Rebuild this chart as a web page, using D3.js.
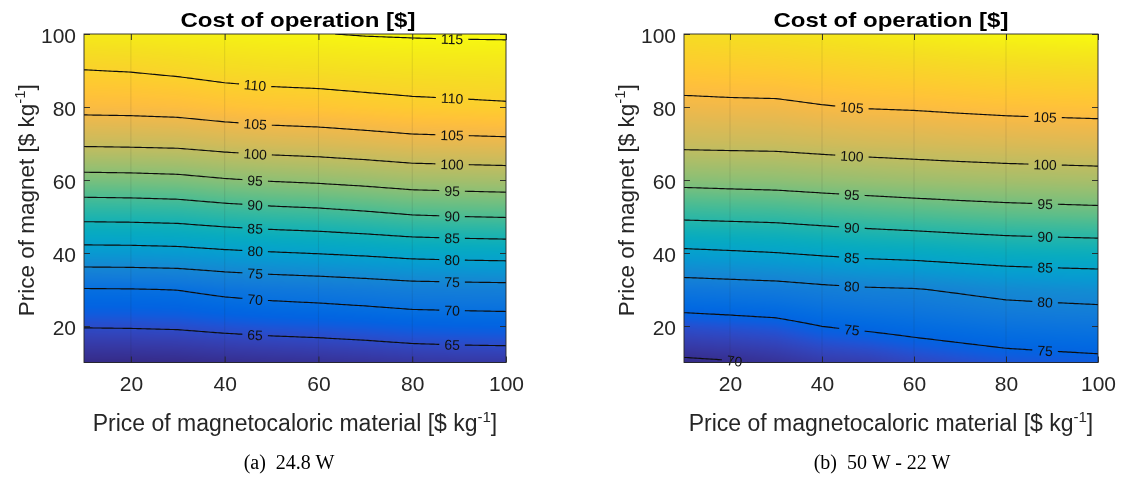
<!DOCTYPE html>
<html>
<head>
<meta charset="utf-8">
<script src="https://cdn.jsdelivr.net/npm/d3@7"></script>
<style>
  html, body { margin: 0; padding: 0; background: #ffffff; }
  #wrap { position: relative; width: 1140px; height: 478px; }
  #fill, #chart { position: absolute; left: 0; top: 0; }
</style>
</head>
<body>
<div id="wrap">
  <canvas id="fill" width="1140" height="478"></canvas>
  <svg id="chart" width="1140" height="478"></svg>
</div>
<script>
// Grid axes: price of magnetocaloric material (columns) and price of magnet (rows), $/kg
const mcmPrice = [10, 20, 30, 40, 50, 60, 70, 80, 90, 100];
const magnetPrice = [10, 20, 30, 40, 50, 60, 70, 80, 90, 100];

// Cost of operation [$], one row per magnet price, one column per magnetocaloric price
const costA = [
  [60.70, 60.73, 60.87, 61.26, 61.52, 61.73, 62.01, 62.40, 62.60, 62.68],
  [65.23, 65.30, 65.46, 65.93, 66.29, 66.54, 66.91, 67.40, 67.60, 67.73],
  [69.77, 69.86, 70.09, 71.03, 71.64, 72.03, 72.53, 73.12, 73.29, 73.44],
  [78.25, 78.33, 78.58, 79.24, 79.74, 80.17, 80.68, 81.32, 81.61, 81.79],
  [86.12, 86.24, 86.50, 87.29, 87.89, 88.28, 88.92, 89.68, 90.00, 90.22],
  [93.48, 93.62, 93.91, 94.71, 95.28, 95.69, 96.25, 96.94, 97.19, 97.40],
  [100.59, 100.72, 100.92, 101.62, 102.14, 102.47, 102.99, 103.59, 103.78, 103.97],
  [106.22, 106.33, 106.61, 107.32, 107.83, 108.08, 108.56, 109.02, 109.26, 109.52],
  [109.93, 110.17, 110.68, 111.36, 111.71, 111.88, 112.17, 112.38, 112.50, 112.60],
  [113.60, 113.80, 114.10, 114.40, 114.70, 114.90, 115.18, 115.32, 115.41, 115.46]
];
const costB = [
  [69.46, 69.77, 70.36, 71.24, 71.60, 72.45, 73.06, 73.63, 73.92, 74.18],
  [73.31, 73.62, 73.99, 75.04, 75.60, 76.14, 76.65, 77.15, 77.40, 77.60],
  [77.92, 78.22, 78.50, 79.14, 79.60, 79.82, 80.44, 81.13, 81.44, 81.69],
  [84.23, 84.57, 84.93, 85.49, 86.00, 86.31, 86.77, 87.19, 87.41, 87.59],
  [90.62, 90.83, 91.04, 91.53, 91.98, 92.36, 92.75, 93.09, 93.31, 93.52],
  [96.12, 96.34, 96.52, 96.91, 97.25, 97.60, 97.88, 98.11, 98.27, 98.43],
  [100.79, 100.88, 100.95, 101.30, 101.62, 101.82, 102.06, 102.27, 102.42, 102.56],
  [104.11, 104.26, 104.32, 104.82, 105.17, 105.33, 105.61, 105.86, 106.02, 106.15],
  [106.90, 107.10, 107.27, 107.68, 108.03, 108.32, 108.65, 108.93, 109.11, 109.27],
  [109.50, 109.80, 110.10, 110.50, 110.90, 111.30, 111.70, 112.00, 112.20, 112.40]
];

// Contour levels
const levelsA = [65, 70, 75, 80, 85, 90, 95, 100, 105, 110, 115];
const levelsB = [70, 75, 80, 85, 90, 95, 100, 105];

// Tick labels
const xTicks = [20, 40, 60, 80, 100];
const yTicks = [20, 40, 60, 80, 100];

// Texts
const plotTitle = "Cost of operation [$]";
const xTitle = "Price of magnetocaloric material [$ kg";
const yTitle = "Price of magnet [$ kg";
const unitExp = "-1";
const captions = ["(a)\u00a0\u00a024.8 W", "(b)\u00a0\u00a050 W - 22 W"];

// MATLAB parula colormap (64 entries)
const parula = [
[0.2081,0.1663,0.5292],[0.2116,0.1898,0.5777],[0.2123,0.2138,0.6270],[0.2081,0.2386,0.6771],
[0.1959,0.2645,0.7279],[0.1707,0.2919,0.7792],[0.1253,0.3242,0.8303],[0.0591,0.3598,0.8683],
[0.0117,0.3875,0.8820],[0.0060,0.4086,0.8828],[0.0165,0.4266,0.8786],[0.0329,0.4430,0.8720],
[0.0498,0.4586,0.8641],[0.0629,0.4737,0.8554],[0.0723,0.4887,0.8467],[0.0779,0.5040,0.8384],
[0.0793,0.5200,0.8312],[0.0749,0.5375,0.8263],[0.0641,0.5570,0.8240],[0.0488,0.5772,0.8228],
[0.0343,0.5966,0.8199],[0.0265,0.6137,0.8135],[0.0239,0.6287,0.8038],[0.0231,0.6418,0.7913],
[0.0228,0.6535,0.7768],[0.0267,0.6642,0.7607],[0.0384,0.6743,0.7436],[0.0590,0.6838,0.7254],
[0.0843,0.6928,0.7062],[0.1133,0.7015,0.6859],[0.1453,0.7098,0.6646],[0.1801,0.7177,0.6424],
[0.2178,0.7250,0.6193],[0.2586,0.7317,0.5954],[0.3022,0.7376,0.5712],[0.3482,0.7424,0.5473],
[0.3953,0.7459,0.5244],[0.4420,0.7481,0.5033],[0.4871,0.7491,0.4840],[0.5300,0.7491,0.4661],
[0.5709,0.7485,0.4494],[0.6099,0.7473,0.4337],[0.6473,0.7456,0.4188],[0.6834,0.7435,0.4044],
[0.7184,0.7411,0.3905],[0.7525,0.7384,0.3768],[0.7858,0.7356,0.3633],[0.8185,0.7327,0.3498],
[0.8507,0.7299,0.3360],[0.8824,0.7274,0.3217],[0.9139,0.7258,0.3063],[0.9450,0.7261,0.2886],
[0.9739,0.7314,0.2666],[0.9938,0.7455,0.2403],[0.9990,0.7653,0.2164],[0.9955,0.7861,0.1967],
[0.9880,0.8066,0.1794],[0.9789,0.8271,0.1633],[0.9697,0.8481,0.1475],[0.9626,0.8705,0.1309],
[0.9589,0.8949,0.1132],[0.9598,0.9218,0.0948],[0.9661,0.9514,0.0755],[0.9763,0.9831,0.0538]
];

// Panel layout
const panels = [
  { key: "a", cost: costA, levels: levelsA, left: 84, right: 506, top: 34, bottom: 362.5,
    labelCols: [46.5, 88.5], extraLabels: [], caption: captions[0], captionX: 289, yTitleX: 33.5, titleX: 298 },
  { key: "b", cost: costB, levels: levelsB, left: 684, right: 1098, top: 34, bottom: 362.5,
    labelCols: [46.5, 88.5], extraLabels: [{ level: 70, at: 21 }], caption: captions[1], captionX: 882, yTitleX: 634, titleX: 891 }
];

const FONT = "'Liberation Sans', Arial, Helvetica, sans-serif";
const SERIF = "'Liberation Serif', 'Times New Roman', serif";
const INK = "#262626";

const svg = d3.select("#chart").style("font-family", FONT);
const defs = svg.append("defs");
const ctx = document.getElementById("fill").getContext("2d");

// Bilinear surface through the cost grid
function surface(grid) {
  const nx = mcmPrice.length, ny = magnetPrice.length;
  return function (xv, yv) {
    let i = d3.bisectRight(mcmPrice, xv) - 1;
    let j = d3.bisectRight(magnetPrice, yv) - 1;
    i = Math.max(0, Math.min(nx - 2, i));
    j = Math.max(0, Math.min(ny - 2, j));
    const tx = Math.max(0, Math.min(1, (xv - mcmPrice[i]) / (mcmPrice[i + 1] - mcmPrice[i])));
    const ty = Math.max(0, Math.min(1, (yv - magnetPrice[j]) / (magnetPrice[j + 1] - magnetPrice[j])));
    const a = grid[j][i], b = grid[j][i + 1], c = grid[j + 1][i], d = grid[j + 1][i + 1];
    return (a * (1 - tx) + b * tx) * (1 - ty) + (c * (1 - tx) + d * tx) * ty;
  };
}

function crossing(f, xv, level) {
  const step = 0.02;
  let prev = f(xv, magnetPrice[0]) - level;
  for (let yv = magnetPrice[0] + step; yv <= magnetPrice[magnetPrice.length - 1] + 1e-9; yv += step) {
    const cur = f(xv, yv) - level;
    if (prev === 0) return yv - step;
    if (prev * cur < 0) return yv - step + step * (prev / (prev - cur));
    prev = cur;
  }
  return null;
}

panels.forEach(p => {
  const x = d3.scaleLinear().domain([mcmPrice[0], mcmPrice[mcmPrice.length - 1]]).range([p.left, p.right]);
  const y = d3.scaleLinear().domain([magnetPrice[0], magnetPrice[magnetPrice.length - 1]]).range([p.bottom, p.top]);
  const f = surface(p.cost);
  const flat = p.cost.flat();
  const zExt = d3.extent(flat);

  // colour lookup table over the data range
  const color = d3.scaleLinear()
    .domain(parula.map((_, k) => zExt[0] + (zExt[1] - zExt[0]) * k / (parula.length - 1)))
    .range(parula.map(c => d3.rgb(c[0] * 255, c[1] * 255, c[2] * 255)))
    .interpolate(d3.interpolateRgb).clamp(true);
  const N = 1024;
  const lut = d3.range(N).map(k => d3.rgb(color(zExt[0] + (zExt[1] - zExt[0]) * k / (N - 1))));

  // interpolated surface fill
  const x0 = Math.round(p.left), y0 = Math.round(p.top);
  const w = Math.round(p.right) - x0, h = Math.round(p.bottom) - y0;
  const img = ctx.createImageData(w, h);
  for (let r = 0; r < h; r++) {
    const yv = y.invert(y0 + r + 0.5);
    for (let c = 0; c < w; c++) {
      const xv = x.invert(x0 + c + 0.5);
      const z = f(xv, yv);
      const k = Math.max(0, Math.min(N - 1, Math.round((z - zExt[0]) / (zExt[1] - zExt[0]) * (N - 1))));
      const col = lut[k];
      const o = (r * w + c) * 4;
      img.data[o] = col.r; img.data[o + 1] = col.g; img.data[o + 2] = col.b; img.data[o + 3] = 255;
    }
  }
  ctx.putImageData(img, x0, y0);

  const g = svg.append("g");

  // clip to the axes box
  defs.append("clipPath").attr("id", "clip-" + p.key)
    .append("rect").attr("x", p.left).attr("y", p.top)
    .attr("width", p.right - p.left).attr("height", p.bottom - p.top);

  // vertical grid
  g.append("g").selectAll("line").data(xTicks.filter(t => t < mcmPrice[mcmPrice.length - 1])).join("line")
    .attr("x1", d => x(d)).attr("x2", d => x(d))
    .attr("y1", p.top).attr("y2", p.bottom)
    .attr("stroke", INK).attr("stroke-opacity", 0.11).attr("stroke-width", 1);

  // contour lines from a finely sampled surface
  const res = 0.5;
  const xs = d3.range(mcmPrice[0], mcmPrice[mcmPrice.length - 1] + res / 2, res);
  const ys = d3.range(magnetPrice[0], magnetPrice[magnetPrice.length - 1] + res / 2, res);
  const values = new Float64Array(xs.length * ys.length);
  ys.forEach((yv, j) => xs.forEach((xv, i) => { values[j * xs.length + i] = f(xv, yv); }));
  const polys = d3.contours().size([xs.length, ys.length]).thresholds(p.levels)(values);
  const proj = d3.geoTransform({
    point: function (cx, cy) {
      this.stream.point(x(xs[0] + (cx - 0.5) * res), y(ys[0] + (cy - 0.5) * res));
    }
  });
  const path = d3.geoPath(proj);

  // label positions and line gaps
  const mask = defs.append("mask").attr("id", "gap-" + p.key)
    .attr("maskUnits", "userSpaceOnUse").attr("x", 0).attr("y", 0).attr("width", 1140).attr("height", 478);
  mask.append("rect").attr("x", 0).attr("y", 0).attr("width", 1140).attr("height", 478).attr("fill", "white");

  const specs = [];
  p.levels.forEach(lv => p.labelCols.forEach(xc => specs.push({ level: lv, at: xc })));
  p.extraLabels.forEach(s => specs.push(s));

  const labelG = g.append("g").attr("font-size", 14).attr("fill", "#111");
  specs.forEach(s => {
    const yc = crossing(f, s.at, s.level);
    if (yc === null) return;
    const ya = crossing(f, s.at - 2, s.level), yb = crossing(f, s.at + 2, s.level);
    let ang = 0;
    if (ya !== null && yb !== null) {
      ang = Math.atan2(y(yb) - y(ya), x(s.at + 2) - x(s.at - 2)) * 180 / Math.PI;
    }
    const tf = `translate(${x(s.at)},${y(yc)}) rotate(${ang})`;
    const t = labelG.append("text").attr("transform", tf)
      .attr("text-anchor", "middle").attr("dy", "0.36em").text(s.level);
    const tw = t.node().getComputedTextLength();
    mask.append("rect").attr("transform", tf)
      .attr("x", -tw / 2 - 5).attr("y", -7).attr("width", tw + 10).attr("height", 14).attr("fill", "black");
  });

  g.insert("g", () => labelG.node()).attr("clip-path", `url(#clip-${p.key})`)
    .append("g").attr("mask", `url(#gap-${p.key})`)
    .selectAll("path").data(polys).join("path")
    .attr("d", path).attr("fill", "none").attr("stroke", "#0d0d0d").attr("stroke-width", 1.15);

  // axes with inward ticks on all four sides
  const tickStyle = sel => {
    sel.select(".domain").remove();
    sel.selectAll(".tick line").attr("stroke", INK).attr("stroke-width", 0.9);
    sel.selectAll(".tick text").attr("fill", INK).attr("font-size", 21).attr("font-family", FONT);
  };
  g.append("g").attr("transform", `translate(0,${p.bottom})`)
    .call(d3.axisBottom(x).tickValues(xTicks).tickSizeInner(-6).tickSizeOuter(0).tickPadding(14))
    .call(tickStyle);
  g.append("g").attr("transform", `translate(${p.left},0)`)
    .call(d3.axisLeft(y).tickValues(yTicks).tickSizeInner(-6).tickSizeOuter(0).tickPadding(8))
    .call(tickStyle)
    .call(sel => sel.selectAll(".tick text").attr("dy", "0.42em"));
  g.append("g").attr("transform", `translate(0,${p.top})`)
    .call(d3.axisTop(x).tickValues(xTicks).tickSizeInner(-6).tickSizeOuter(0).tickFormat(""))
    .call(tickStyle);
  g.append("g").attr("transform", `translate(${p.right},0)`)
    .call(d3.axisRight(y).tickValues(yTicks).tickSizeInner(-6).tickSizeOuter(0).tickFormat(""))
    .call(tickStyle);

  g.append("rect").attr("x", p.left).attr("y", p.top)
    .attr("width", p.right - p.left).attr("height", p.bottom - p.top)
    .attr("fill", "none").attr("stroke", INK).attr("stroke-width", 0.9);

  // title
  g.append("text").attr("x", p.titleX).attr("y", 26.5)
    .attr("text-anchor", "middle").attr("font-weight", "bold").attr("font-size", 21)
    .attr("textLength", 235).attr("lengthAdjust", "spacingAndGlyphs")
    .attr("fill", "#000").text(plotTitle);

  // x axis title
  const xt = g.append("text").attr("x", (p.left + p.right) / 2).attr("y", 431)
    .attr("text-anchor", "middle").attr("font-size", 23).attr("fill", INK);
  xt.append("tspan").text(xTitle);
  xt.append("tspan").attr("font-size", 15).attr("dy", -9).text(unitExp);
  xt.append("tspan").attr("font-size", 23).attr("dy", 9).text("]");

  // y axis title
  const yt = g.append("text")
    .attr("transform", `translate(${p.yTitleX},${(p.top + p.bottom) / 2 + 2}) rotate(-90)`)
    .attr("text-anchor", "middle").attr("font-size", 22.5).attr("fill", INK);
  yt.append("tspan").text(yTitle);
  yt.append("tspan").attr("font-size", 15).attr("dy", -9).text(unitExp);
  yt.append("tspan").attr("font-size", 22.5).attr("dy", 9).text("]");

  // sub-figure caption
  svg.append("text").attr("x", p.captionX).attr("y", 468.5)
    .attr("text-anchor", "middle").attr("font-family", SERIF).attr("font-size", 20)
    .attr("fill", "#000").text(p.caption);
});
</script>
</body>
</html>
